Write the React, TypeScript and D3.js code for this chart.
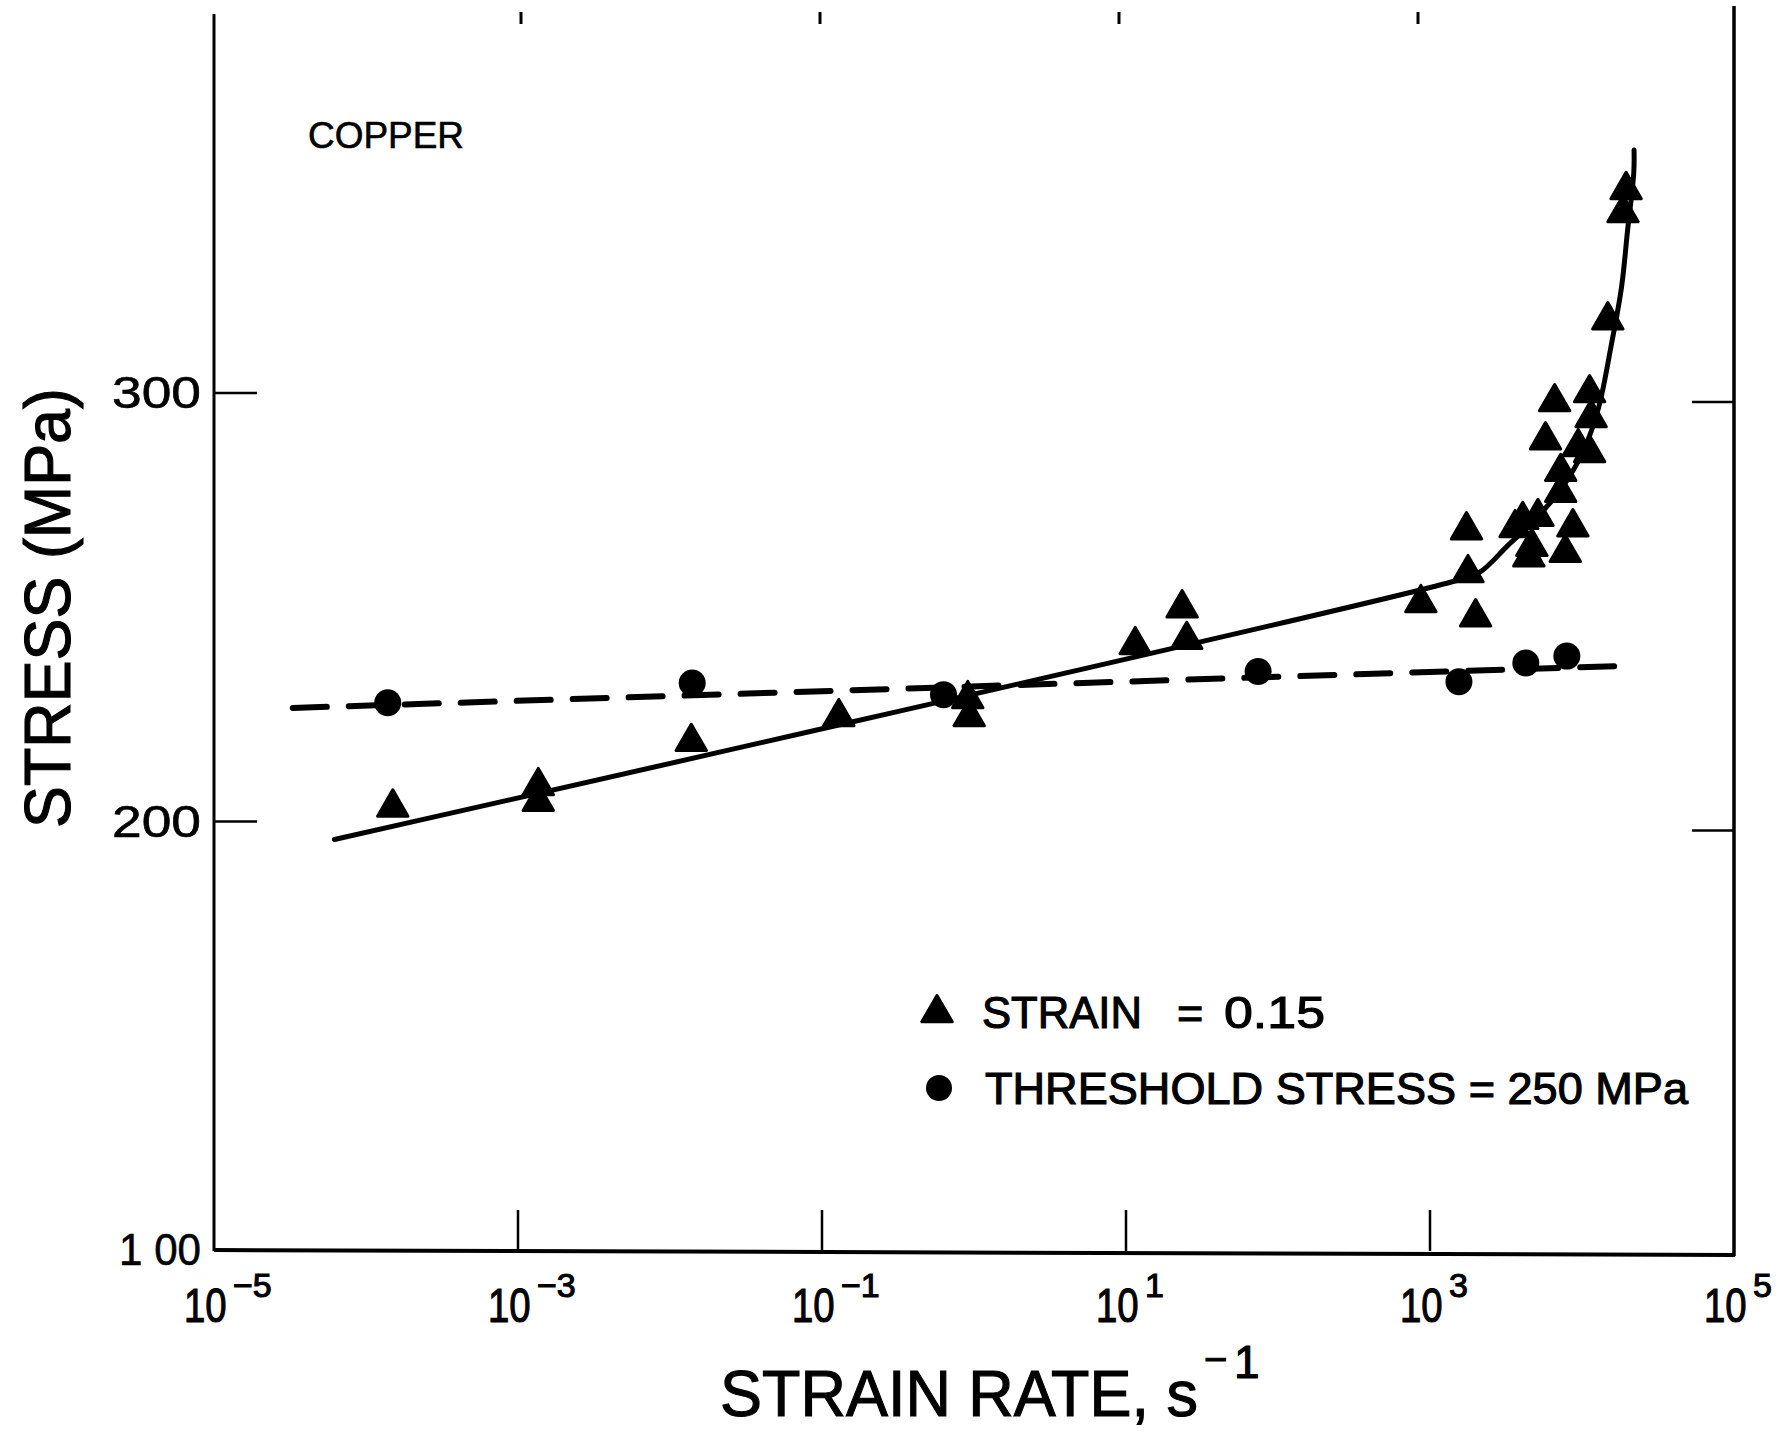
import React from "react";
import * as d3 from "d3";

// ---- data ----
const triStrainRate = [1.5e-4, 1.36e-3, 1.36e-3, 1.38e-2, 0.129, 0.91, 0.93, 11.5, 23.4, 25.1, 871, 1738, 1778, 1995, 3631, 4074, 5129, 4677, 4467, 6607, 5754, 7244, 7244, 7762, 8710, 9441, 11220, 11220, 11480, 14790, 18620, 19500];
const triStress = [203.3, 208.3, 204.6, 218.6, 224.4, 228.6, 224.4, 241.2, 249.8, 242.4, 251.0, 268.0, 258.0, 247.7, 268.5, 270.4, 271.1, 264.1, 261.7, 297.9, 289.0, 281.6, 276.7, 262.7, 268.7, 287.4, 286.0, 300.0, 294.2, 317.0, 342.0, 347.4];

const dotStrainRate = [1.39e-4, 1.4e-2, 0.63, 74, 1550, 4270, 7950];
const dotStress = [227.7, 232.3, 229.6, 235.0, 232.6, 237.0, 238.6];

const fitStrainRate = [6.2e-5, 1380, 2090, 3270, 4900, 7760, 10470, 12880, 15490, 18200, 19950, 21900, 22000];
const fitStress = [195.8, 255.9, 258.0, 264.5, 270.4, 279.0, 287.4, 296.7, 310.7, 324.7, 338.0, 351.3, 356.7];

const thrStrainRate = [3.3e-5, 17800];
const thrStress = [226.5, 236.3];

const yTickValues = [100, 200, 300];
const xTickExponents = [-5, -3, -1, 1, 3, 5];

const FONT = "'Liberation Sans', Arial, Helvetica, sans-serif";

export default function App() {
  const W = 1791, H = 1432;
  const x = d3.scaleLog().domain([1e-5, 1e5]).range([214, 1734]);
  const y = d3.scaleLinear().domain([100, 300]).range([1250, 393]);

  const fitPts: [number, number][] = fitStrainRate.map((v, i) => [x(v), y(fitStress[i])]);
  const fitPath = d3.line().curve(d3.curveCatmullRom.alpha(0.5))(fitPts) || "";
  const thrPts: [number, number][] = thrStrainRate.map((v, i) => [x(v), y(thrStress[i])]);
  const thrPath = d3.line()(thrPts) || "";
  const tri = d3.symbol().type(d3.symbolTriangle).size(400)() || "";

  const left = x(1e-5), right = x(1e5), bottom = y(100);
  const innerExps = xTickExponents.filter((e) => e > -5 && e < 5);
  const bold = { stroke: "#000", strokeWidth: 1.1 };

  return (
    <svg width={W} height={H} style={{ position: "absolute", left: 0, top: 0, background: "#fff" }} fontFamily={FONT}>
      <rect x={0} y={0} width={W} height={H} fill="#fff" />
      {/* axes frame */}
      <line x1={left} y1={14} x2={left} y2={bottom + 1} stroke="#000" strokeWidth={3} />
      <line x1={left} y1={bottom} x2={right + 1} y2={bottom + 5} stroke="#000" strokeWidth={4} />
      <line x1={right} y1={6} x2={right} y2={bottom + 6} stroke="#000" strokeWidth={3.5} />

      {/* y ticks */}
      {yTickValues.filter((v) => v > 100).map((v) => (
        <g key={"yt" + v}>
          <line x1={left} y1={y(v)} x2={left + 43} y2={y(v)} stroke="#000" strokeWidth={2.5} />
          <line x1={right - 42} y1={y(v) + 9} x2={right} y2={y(v) + 9} stroke="#000" strokeWidth={2.5} />
        </g>
      ))}
      {yTickValues.map((v) => (
        <text key={"yl" + v} x={201} y={y(v) + 15} textAnchor="end" fontSize={44} textLength={v === 100 ? 82 : 89} lengthAdjust="spacingAndGlyphs" fill="#000" stroke="#000" strokeWidth={0.6}>
          {v === 100 ? "1 00" : String(v)}
        </text>
      ))}

      {/* x ticks */}
      {innerExps.map((e) => {
        const px = x(Math.pow(10, e));
        const skew = 3 - (e + 3) * 2.5;
        return (
          <g key={"xt" + e}>
            <line x1={px} y1={bottom + 1} x2={px} y2={bottom - 40} stroke="#000" strokeWidth={2.5} />
            <line x1={px + skew} y1={12} x2={px + skew} y2={24} stroke="#000" strokeWidth={3} />
          </g>
        );
      })}
      {xTickExponents.map((e) => {
        const cx = x(Math.pow(10, e));
        return (
          <g key={"xl" + e}>
            <text transform={`translate(${cx - 30},1322) scale(0.8,1)`} fontSize={48} fill="#000" {...bold}>10</text>
            <text x={cx + 19} y={1297} fontSize={34} fill="#000" {...bold}>{e < 0 ? "\u2212" + Math.abs(e) : String(e)}</text>
          </g>
        );
      })}

      {/* axis titles */}
      <text x={720} y={1416} fontSize={64} textLength={478} lengthAdjust="spacingAndGlyphs" fill="#000" {...bold}>STRAIN RATE, s</text>
      <text x={1204} y={1373} fontSize={40} fill="#000" {...bold}>{"\u2212"}</text>
      <text x={1234} y={1378} fontSize={46} fill="#000" {...bold}>1</text>
      <text transform="translate(70,608) rotate(-90)" textAnchor="middle" fontSize={64} textLength={440} lengthAdjust="spacingAndGlyphs" fill="#000" {...bold}>STRESS (MPa)</text>

      <text x={308} y={148} fontSize={37} textLength={156} lengthAdjust="spacingAndGlyphs" fill="#000" stroke="#000" strokeWidth={0.6}>COPPER</text>

      {/* threshold dashed line */}
      <path d={thrPath} fill="none" stroke="#000" strokeWidth={6} strokeDasharray="34 22" strokeLinecap="round" />
      {/* fitted solid line */}
      <path d={fitPath} fill="none" stroke="#000" strokeWidth={5} strokeLinecap="round" />

      {/* points */}
      {dotStrainRate.map((v, i) => (
        <circle key={"c" + i} cx={x(v)} cy={y(dotStress[i])} r={13.5} fill="#000" />
      ))}
      {triStrainRate.map((v, i) => (
        <path key={"t" + i} d={tri} transform={`translate(${x(v)},${y(triStress[i])})`} fill="#000" stroke="#000" strokeWidth={3} strokeLinejoin="round" />
      ))}

      {/* legend */}
      <path d={tri} transform="translate(937,1013)" fill="#000" stroke="#000" strokeWidth={3} strokeLinejoin="round" />
      <text x={982} y={1028} fontSize={45} textLength={160} lengthAdjust="spacingAndGlyphs" fill="#000" {...bold}>STRAIN</text>
      <text x={1177} y={1028} fontSize={45} fill="#000" {...bold}>=</text>
      <text x={1224} y={1028} fontSize={45} textLength={101} lengthAdjust="spacingAndGlyphs" fill="#000" {...bold}>0.15</text>
      <circle cx={939} cy={1088} r={13} fill="#000" />
      <text x={985} y={1104} fontSize={45} textLength={703} lengthAdjust="spacingAndGlyphs" fill="#000" {...bold}>THRESHOLD STRESS = 250 MPa</text>
    </svg>
  );
}
